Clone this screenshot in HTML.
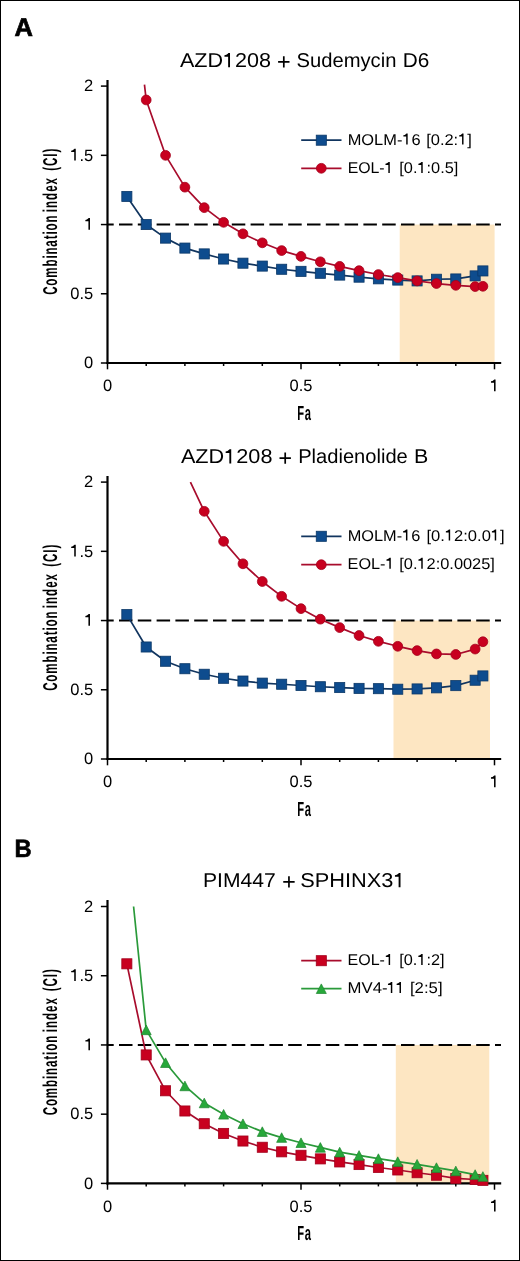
<!DOCTYPE html><html><head><meta charset="utf-8"><style>html,body{margin:0;padding:0;background:#fff;}svg{display:block;will-change:transform;}text{font-family:"Liberation Sans",sans-serif;text-rendering:geometricPrecision;}</style></head><body>
<svg width="520" height="1261" viewBox="0 0 520 1261">
<rect x="0" y="0" width="520" height="1261" fill="#fff"/>
<rect x="0.5" y="0.5" width="519" height="1260" fill="none" stroke="#000" stroke-width="1"/>
<text x="14.6" y="36.3" font-size="25.5" font-weight="bold" fill="#000" stroke="#000" stroke-width="0.7">A</text>
<text x="0" y="0" font-size="25" font-weight="bold" fill="#000" stroke="#000" stroke-width="0.6" transform="translate(14.4 857.2) scale(0.95 1)">B</text>
<rect x="399.7" y="224.55" width="94.9" height="138.45" fill="#fde6c2"/>
<line x1="107.5" y1="224.55" x2="501" y2="224.55" stroke="#000" stroke-width="2" stroke-dasharray="13.5 5.3" stroke-dashoffset="7.3"/>
<line x1="107.5" y1="80" x2="107.5" y2="364.1" stroke="#000" stroke-width="2.2"/>
<line x1="106.4" y1="363" x2="501.2" y2="363" stroke="#000" stroke-width="2.2"/>
<line x1="100.9" y1="363" x2="107.5" y2="363" stroke="#000" stroke-width="1.5"/>
<line x1="100.9" y1="293.77" x2="107.5" y2="293.77" stroke="#000" stroke-width="1.5"/>
<line x1="100.9" y1="224.55" x2="107.5" y2="224.55" stroke="#000" stroke-width="1.5"/>
<line x1="100.9" y1="155.33" x2="107.5" y2="155.33" stroke="#000" stroke-width="1.5"/>
<line x1="100.9" y1="86.1" x2="107.5" y2="86.1" stroke="#000" stroke-width="1.5"/>
<line x1="107.5" y1="363" x2="107.5" y2="369.3" stroke="#000" stroke-width="1.5"/>
<line x1="146.2" y1="363" x2="146.2" y2="366" stroke="#000" stroke-width="1.5"/>
<line x1="184.9" y1="363" x2="184.9" y2="366" stroke="#000" stroke-width="1.5"/>
<line x1="223.6" y1="363" x2="223.6" y2="366" stroke="#000" stroke-width="1.5"/>
<line x1="262.3" y1="363" x2="262.3" y2="366" stroke="#000" stroke-width="1.5"/>
<line x1="301" y1="363" x2="301" y2="369.3" stroke="#000" stroke-width="1.5"/>
<line x1="339.7" y1="363" x2="339.7" y2="366" stroke="#000" stroke-width="1.5"/>
<line x1="378.4" y1="363" x2="378.4" y2="366" stroke="#000" stroke-width="1.5"/>
<line x1="417.1" y1="363" x2="417.1" y2="366" stroke="#000" stroke-width="1.5"/>
<line x1="455.8" y1="363" x2="455.8" y2="366" stroke="#000" stroke-width="1.5"/>
<line x1="494.5" y1="363" x2="494.5" y2="369.3" stroke="#000" stroke-width="1.5"/>
<text x="93.2" y="368.2" font-size="16.5" text-anchor="end" fill="#000">0</text>
<text x="93.2" y="298.97" font-size="16.5" text-anchor="end" fill="#000">0.5</text>
<path d="M89.97,217.99 L89.97,229.75 L88.43,229.75 L88.43,221.19 L85.38,221.19 L85.38,219.9 L86.93,219.49 L88.17,218.56 L88.63,217.99 Z" fill="#000"/>
<path d="M75.77,148.77 L75.77,160.53 L74.23,160.53 L74.23,151.97 L71.18,151.97 L71.18,150.68 L72.73,150.26 L73.97,149.34 L74.43,148.77 Z" fill="#000"/>
<text x="93.2" y="160.53" font-size="16.5" text-anchor="end" fill="#000">.5</text>
<text x="93.2" y="91.3" font-size="16.5" text-anchor="end" fill="#000">2</text>
<text x="107.5" y="391.2" font-size="16.5" text-anchor="middle" fill="#000">0</text>
<text x="301" y="391.2" font-size="16.5" text-anchor="middle" fill="#000">0.5</text>
<path d="M495.57,379.44 L495.57,391.2 L494.03,391.2 L494.03,382.64 L490.98,382.64 L490.98,381.35 L492.53,380.94 L493.77,380.01 L494.23,379.44 Z" fill="#000"/>
<text x="0" y="0" font-size="20.5" font-weight="bold" fill="#000" letter-spacing="1.5" transform="translate(297.2 419.8) scale(0.546 1)">Fa</text>
<text x="0" y="0" font-size="20" font-weight="bold" fill="#000" textLength="136.77" lengthAdjust="spacing" transform="translate(57.1 294.86) rotate(-90) scale(0.58 1)">Combination</text>
<text x="0" y="0" font-size="20" font-weight="bold" fill="#000" textLength="59.07" lengthAdjust="spacing" transform="translate(57.1 212.19) rotate(-90) scale(0.58 1)">index</text>
<text x="0" y="0" font-size="20" font-weight="bold" fill="#000" textLength="38.11" lengthAdjust="spacing" transform="translate(57.1 170.84) rotate(-90) scale(0.58 1)">(CI)</text>
<text x="179.94" y="67.2" font-size="20" fill="#000" textLength="91.13" lengthAdjust="spacingAndGlyphs">AZD<tspan fill="transparent">1</tspan>208</text>
<path d="M278.1,61.9H289.5M283.8,56.2V67.6" stroke="#000" stroke-width="1.7" fill="none"/>
<text x="296.52" y="67.2" font-size="20" fill="#000" textLength="99.92" lengthAdjust="spacingAndGlyphs">Sudemycin</text>
<text x="402.74" y="67.2" font-size="20" fill="#000" textLength="26.56" lengthAdjust="spacingAndGlyphs">D6</text>
<polyline points="126.85,196.44 146.2,224.55 165.55,238.12 184.9,248.09 204.25,253.9 223.6,259.02 242.95,263.18 262.3,266.09 281.65,269.27 301,271.35 320.35,273.28 339.7,275.08 359.05,277.16 378.4,278.82 397.75,280.07 417.1,280.9 436.45,279.24 455.8,278.96 475.15,275.91 482.89,270.93" fill="none" stroke="#11355f" stroke-width="1.7" stroke-linejoin="round"/>
<rect x="121.8" y="191.39" width="10.1" height="10.1" fill="#0e4c8e" stroke="#0b3868" stroke-width="0.8"/>
<rect x="141.15" y="219.5" width="10.1" height="10.1" fill="#0e4c8e" stroke="#0b3868" stroke-width="0.8"/>
<rect x="160.5" y="233.07" width="10.1" height="10.1" fill="#0e4c8e" stroke="#0b3868" stroke-width="0.8"/>
<rect x="179.85" y="243.04" width="10.1" height="10.1" fill="#0e4c8e" stroke="#0b3868" stroke-width="0.8"/>
<rect x="199.2" y="248.85" width="10.1" height="10.1" fill="#0e4c8e" stroke="#0b3868" stroke-width="0.8"/>
<rect x="218.55" y="253.97" width="10.1" height="10.1" fill="#0e4c8e" stroke="#0b3868" stroke-width="0.8"/>
<rect x="237.9" y="258.13" width="10.1" height="10.1" fill="#0e4c8e" stroke="#0b3868" stroke-width="0.8"/>
<rect x="257.25" y="261.04" width="10.1" height="10.1" fill="#0e4c8e" stroke="#0b3868" stroke-width="0.8"/>
<rect x="276.6" y="264.22" width="10.1" height="10.1" fill="#0e4c8e" stroke="#0b3868" stroke-width="0.8"/>
<rect x="295.95" y="266.3" width="10.1" height="10.1" fill="#0e4c8e" stroke="#0b3868" stroke-width="0.8"/>
<rect x="315.3" y="268.23" width="10.1" height="10.1" fill="#0e4c8e" stroke="#0b3868" stroke-width="0.8"/>
<rect x="334.65" y="270.03" width="10.1" height="10.1" fill="#0e4c8e" stroke="#0b3868" stroke-width="0.8"/>
<rect x="354" y="272.11" width="10.1" height="10.1" fill="#0e4c8e" stroke="#0b3868" stroke-width="0.8"/>
<rect x="373.35" y="273.77" width="10.1" height="10.1" fill="#0e4c8e" stroke="#0b3868" stroke-width="0.8"/>
<rect x="392.7" y="275.02" width="10.1" height="10.1" fill="#0e4c8e" stroke="#0b3868" stroke-width="0.8"/>
<rect x="412.05" y="275.85" width="10.1" height="10.1" fill="#0e4c8e" stroke="#0b3868" stroke-width="0.8"/>
<rect x="431.4" y="274.19" width="10.1" height="10.1" fill="#0e4c8e" stroke="#0b3868" stroke-width="0.8"/>
<rect x="450.75" y="273.91" width="10.1" height="10.1" fill="#0e4c8e" stroke="#0b3868" stroke-width="0.8"/>
<rect x="470.1" y="270.86" width="10.1" height="10.1" fill="#0e4c8e" stroke="#0b3868" stroke-width="0.8"/>
<rect x="477.84" y="265.88" width="10.1" height="10.1" fill="#0e4c8e" stroke="#0b3868" stroke-width="0.8"/>
<polyline points="144.46,84.72 146.2,99.95 165.55,155.33 184.9,187.17 204.25,207.66 223.6,222.33 242.95,233.83 262.3,242.83 281.65,250.58 301,256.39 320.35,261.79 339.7,266.36 359.05,270.65 378.4,274.53 397.75,277.58 417.1,280.9 436.45,283.53 455.8,285.33 475.15,286.58 482.89,286.3" fill="none" stroke="#a80c2c" stroke-width="1.7" stroke-linejoin="round"/>
<circle cx="146.2" cy="99.95" r="4.9" fill="#c8001f" stroke="#a3001c" stroke-width="0.8"/>
<circle cx="165.55" cy="155.33" r="4.9" fill="#c8001f" stroke="#a3001c" stroke-width="0.8"/>
<circle cx="184.9" cy="187.17" r="4.9" fill="#c8001f" stroke="#a3001c" stroke-width="0.8"/>
<circle cx="204.25" cy="207.66" r="4.9" fill="#c8001f" stroke="#a3001c" stroke-width="0.8"/>
<circle cx="223.6" cy="222.33" r="4.9" fill="#c8001f" stroke="#a3001c" stroke-width="0.8"/>
<circle cx="242.95" cy="233.83" r="4.9" fill="#c8001f" stroke="#a3001c" stroke-width="0.8"/>
<circle cx="262.3" cy="242.83" r="4.9" fill="#c8001f" stroke="#a3001c" stroke-width="0.8"/>
<circle cx="281.65" cy="250.58" r="4.9" fill="#c8001f" stroke="#a3001c" stroke-width="0.8"/>
<circle cx="301" cy="256.39" r="4.9" fill="#c8001f" stroke="#a3001c" stroke-width="0.8"/>
<circle cx="320.35" cy="261.79" r="4.9" fill="#c8001f" stroke="#a3001c" stroke-width="0.8"/>
<circle cx="339.7" cy="266.36" r="4.9" fill="#c8001f" stroke="#a3001c" stroke-width="0.8"/>
<circle cx="359.05" cy="270.65" r="4.9" fill="#c8001f" stroke="#a3001c" stroke-width="0.8"/>
<circle cx="378.4" cy="274.53" r="4.9" fill="#c8001f" stroke="#a3001c" stroke-width="0.8"/>
<circle cx="397.75" cy="277.58" r="4.9" fill="#c8001f" stroke="#a3001c" stroke-width="0.8"/>
<circle cx="417.1" cy="280.9" r="4.9" fill="#c8001f" stroke="#a3001c" stroke-width="0.8"/>
<circle cx="436.45" cy="283.53" r="4.9" fill="#c8001f" stroke="#a3001c" stroke-width="0.8"/>
<circle cx="455.8" cy="285.33" r="4.9" fill="#c8001f" stroke="#a3001c" stroke-width="0.8"/>
<circle cx="475.15" cy="286.58" r="4.9" fill="#c8001f" stroke="#a3001c" stroke-width="0.8"/>
<circle cx="482.89" cy="286.3" r="4.9" fill="#c8001f" stroke="#a3001c" stroke-width="0.8"/>
<line x1="301.2" y1="140.2" x2="341.5" y2="140.2" stroke="#11355f" stroke-width="1.7"/>
<rect x="316.25" y="135.15" width="10.1" height="10.1" fill="#0e4c8e" stroke="#0b3868" stroke-width="0.8"/>
<text x="347.65" y="144.6" font-size="15.5" fill="#000" textLength="72.99" lengthAdjust="spacingAndGlyphs">MOLM-<tspan fill="transparent">1</tspan>6</text>
<text x="426.16" y="144.6" font-size="15.5" fill="#000" textLength="45.79" lengthAdjust="spacingAndGlyphs">[0.2:<tspan fill="transparent">1</tspan>]</text>
<line x1="301.2" y1="168.3" x2="341.5" y2="168.3" stroke="#a80c2c" stroke-width="1.7"/>
<circle cx="321.3" cy="168.3" r="4.9" fill="#c8001f" stroke="#a3001c" stroke-width="0.8"/>
<text x="347.66" y="173" font-size="15.5" fill="#000" textLength="45.81" lengthAdjust="spacingAndGlyphs">EOL-<tspan fill="transparent">1</tspan></text>
<text x="399.28" y="173" font-size="15.5" fill="#000" textLength="59.03" lengthAdjust="spacingAndGlyphs">[0.<tspan fill="transparent">1</tspan>:0.5]</text>
<rect x="393.5" y="620.55" width="96.5" height="138.45" fill="#fde6c2"/>
<line x1="107.5" y1="620.55" x2="501" y2="620.55" stroke="#000" stroke-width="2" stroke-dasharray="13.5 5.3" stroke-dashoffset="7.3"/>
<line x1="107.5" y1="476" x2="107.5" y2="760.1" stroke="#000" stroke-width="2.2"/>
<line x1="106.4" y1="759" x2="501.2" y2="759" stroke="#000" stroke-width="2.2"/>
<line x1="100.9" y1="759" x2="107.5" y2="759" stroke="#000" stroke-width="1.5"/>
<line x1="100.9" y1="689.77" x2="107.5" y2="689.77" stroke="#000" stroke-width="1.5"/>
<line x1="100.9" y1="620.55" x2="107.5" y2="620.55" stroke="#000" stroke-width="1.5"/>
<line x1="100.9" y1="551.33" x2="107.5" y2="551.33" stroke="#000" stroke-width="1.5"/>
<line x1="100.9" y1="482.1" x2="107.5" y2="482.1" stroke="#000" stroke-width="1.5"/>
<line x1="107.5" y1="759" x2="107.5" y2="765.3" stroke="#000" stroke-width="1.5"/>
<line x1="146.2" y1="759" x2="146.2" y2="762" stroke="#000" stroke-width="1.5"/>
<line x1="184.9" y1="759" x2="184.9" y2="762" stroke="#000" stroke-width="1.5"/>
<line x1="223.6" y1="759" x2="223.6" y2="762" stroke="#000" stroke-width="1.5"/>
<line x1="262.3" y1="759" x2="262.3" y2="762" stroke="#000" stroke-width="1.5"/>
<line x1="301" y1="759" x2="301" y2="765.3" stroke="#000" stroke-width="1.5"/>
<line x1="339.7" y1="759" x2="339.7" y2="762" stroke="#000" stroke-width="1.5"/>
<line x1="378.4" y1="759" x2="378.4" y2="762" stroke="#000" stroke-width="1.5"/>
<line x1="417.1" y1="759" x2="417.1" y2="762" stroke="#000" stroke-width="1.5"/>
<line x1="455.8" y1="759" x2="455.8" y2="762" stroke="#000" stroke-width="1.5"/>
<line x1="494.5" y1="759" x2="494.5" y2="765.3" stroke="#000" stroke-width="1.5"/>
<text x="93.2" y="764.2" font-size="16.5" text-anchor="end" fill="#000">0</text>
<text x="93.2" y="694.98" font-size="16.5" text-anchor="end" fill="#000">0.5</text>
<path d="M89.97,613.99 L89.97,625.75 L88.43,625.75 L88.43,617.19 L85.38,617.19 L85.38,615.9 L86.93,615.49 L88.17,614.56 L88.63,613.99 Z" fill="#000"/>
<path d="M75.77,544.77 L75.77,556.53 L74.23,556.53 L74.23,547.97 L71.18,547.97 L71.18,546.68 L72.73,546.26 L73.97,545.34 L74.43,544.77 Z" fill="#000"/>
<text x="93.2" y="556.53" font-size="16.5" text-anchor="end" fill="#000">.5</text>
<text x="93.2" y="487.3" font-size="16.5" text-anchor="end" fill="#000">2</text>
<text x="107.5" y="787.2" font-size="16.5" text-anchor="middle" fill="#000">0</text>
<text x="301" y="787.2" font-size="16.5" text-anchor="middle" fill="#000">0.5</text>
<path d="M495.57,775.44 L495.57,787.2 L494.03,787.2 L494.03,778.64 L490.98,778.64 L490.98,777.35 L492.53,776.94 L493.77,776.01 L494.23,775.44 Z" fill="#000"/>
<text x="0" y="0" font-size="20.5" font-weight="bold" fill="#000" letter-spacing="1.5" transform="translate(297.2 816) scale(0.546 1)">Fa</text>
<text x="0" y="0" font-size="20" font-weight="bold" fill="#000" textLength="136.77" lengthAdjust="spacing" transform="translate(57.1 690.86) rotate(-90) scale(0.58 1)">Combination</text>
<text x="0" y="0" font-size="20" font-weight="bold" fill="#000" textLength="59.07" lengthAdjust="spacing" transform="translate(57.1 608.19) rotate(-90) scale(0.58 1)">index</text>
<text x="0" y="0" font-size="20" font-weight="bold" fill="#000" textLength="38.11" lengthAdjust="spacing" transform="translate(57.1 566.84) rotate(-90) scale(0.58 1)">(CI)</text>
<text x="180.93" y="463.4" font-size="20" fill="#000" textLength="91.53" lengthAdjust="spacingAndGlyphs">AZD<tspan fill="transparent">1</tspan>208</text>
<path d="M279.5,458.1H290.9M285.2,452.4V463.8" stroke="#000" stroke-width="1.7" fill="none"/>
<text x="298.19" y="463.4" font-size="20" fill="#000" textLength="109.6" lengthAdjust="spacingAndGlyphs">Pladienolide</text>
<text x="413.97" y="463.4" font-size="20" fill="#000" textLength="14.28" lengthAdjust="spacingAndGlyphs">B</text>
<polyline points="126.85,614.6 146.2,646.99 165.55,661.25 184.9,668.73 204.25,674.27 223.6,678.28 242.95,681.05 262.3,683.13 281.65,684.24 301,685.48 320.35,686.73 339.7,687.56 359.05,688.39 378.4,688.67 397.75,689.22 417.1,688.94 436.45,687.84 455.8,685.62 475.15,680.22 482.89,675.93" fill="none" stroke="#11355f" stroke-width="1.7" stroke-linejoin="round"/>
<rect x="121.8" y="609.55" width="10.1" height="10.1" fill="#0e4c8e" stroke="#0b3868" stroke-width="0.8"/>
<rect x="141.15" y="641.94" width="10.1" height="10.1" fill="#0e4c8e" stroke="#0b3868" stroke-width="0.8"/>
<rect x="160.5" y="656.2" width="10.1" height="10.1" fill="#0e4c8e" stroke="#0b3868" stroke-width="0.8"/>
<rect x="179.85" y="663.68" width="10.1" height="10.1" fill="#0e4c8e" stroke="#0b3868" stroke-width="0.8"/>
<rect x="199.2" y="669.22" width="10.1" height="10.1" fill="#0e4c8e" stroke="#0b3868" stroke-width="0.8"/>
<rect x="218.55" y="673.23" width="10.1" height="10.1" fill="#0e4c8e" stroke="#0b3868" stroke-width="0.8"/>
<rect x="237.9" y="676" width="10.1" height="10.1" fill="#0e4c8e" stroke="#0b3868" stroke-width="0.8"/>
<rect x="257.25" y="678.08" width="10.1" height="10.1" fill="#0e4c8e" stroke="#0b3868" stroke-width="0.8"/>
<rect x="276.6" y="679.19" width="10.1" height="10.1" fill="#0e4c8e" stroke="#0b3868" stroke-width="0.8"/>
<rect x="295.95" y="680.43" width="10.1" height="10.1" fill="#0e4c8e" stroke="#0b3868" stroke-width="0.8"/>
<rect x="315.3" y="681.68" width="10.1" height="10.1" fill="#0e4c8e" stroke="#0b3868" stroke-width="0.8"/>
<rect x="334.65" y="682.51" width="10.1" height="10.1" fill="#0e4c8e" stroke="#0b3868" stroke-width="0.8"/>
<rect x="354" y="683.34" width="10.1" height="10.1" fill="#0e4c8e" stroke="#0b3868" stroke-width="0.8"/>
<rect x="373.35" y="683.62" width="10.1" height="10.1" fill="#0e4c8e" stroke="#0b3868" stroke-width="0.8"/>
<rect x="392.7" y="684.17" width="10.1" height="10.1" fill="#0e4c8e" stroke="#0b3868" stroke-width="0.8"/>
<rect x="412.05" y="683.89" width="10.1" height="10.1" fill="#0e4c8e" stroke="#0b3868" stroke-width="0.8"/>
<rect x="431.4" y="682.79" width="10.1" height="10.1" fill="#0e4c8e" stroke="#0b3868" stroke-width="0.8"/>
<rect x="450.75" y="680.57" width="10.1" height="10.1" fill="#0e4c8e" stroke="#0b3868" stroke-width="0.8"/>
<rect x="470.1" y="675.17" width="10.1" height="10.1" fill="#0e4c8e" stroke="#0b3868" stroke-width="0.8"/>
<rect x="477.84" y="670.88" width="10.1" height="10.1" fill="#0e4c8e" stroke="#0b3868" stroke-width="0.8"/>
<polyline points="190.43,482.1 204.25,511.31 223.6,541.36 242.95,563.79 262.3,581.51 281.65,596.32 301,608.64 320.35,619.17 339.7,627.61 359.05,635.5 378.4,641.32 397.75,646.3 417.1,650.59 436.45,653.92 455.8,654.47 475.15,649.07 482.89,641.73" fill="none" stroke="#a80c2c" stroke-width="1.7" stroke-linejoin="round"/>
<circle cx="204.25" cy="511.31" r="4.9" fill="#c8001f" stroke="#a3001c" stroke-width="0.8"/>
<circle cx="223.6" cy="541.36" r="4.9" fill="#c8001f" stroke="#a3001c" stroke-width="0.8"/>
<circle cx="242.95" cy="563.79" r="4.9" fill="#c8001f" stroke="#a3001c" stroke-width="0.8"/>
<circle cx="262.3" cy="581.51" r="4.9" fill="#c8001f" stroke="#a3001c" stroke-width="0.8"/>
<circle cx="281.65" cy="596.32" r="4.9" fill="#c8001f" stroke="#a3001c" stroke-width="0.8"/>
<circle cx="301" cy="608.64" r="4.9" fill="#c8001f" stroke="#a3001c" stroke-width="0.8"/>
<circle cx="320.35" cy="619.17" r="4.9" fill="#c8001f" stroke="#a3001c" stroke-width="0.8"/>
<circle cx="339.7" cy="627.61" r="4.9" fill="#c8001f" stroke="#a3001c" stroke-width="0.8"/>
<circle cx="359.05" cy="635.5" r="4.9" fill="#c8001f" stroke="#a3001c" stroke-width="0.8"/>
<circle cx="378.4" cy="641.32" r="4.9" fill="#c8001f" stroke="#a3001c" stroke-width="0.8"/>
<circle cx="397.75" cy="646.3" r="4.9" fill="#c8001f" stroke="#a3001c" stroke-width="0.8"/>
<circle cx="417.1" cy="650.59" r="4.9" fill="#c8001f" stroke="#a3001c" stroke-width="0.8"/>
<circle cx="436.45" cy="653.92" r="4.9" fill="#c8001f" stroke="#a3001c" stroke-width="0.8"/>
<circle cx="455.8" cy="654.47" r="4.9" fill="#c8001f" stroke="#a3001c" stroke-width="0.8"/>
<circle cx="475.15" cy="649.07" r="4.9" fill="#c8001f" stroke="#a3001c" stroke-width="0.8"/>
<circle cx="482.89" cy="641.73" r="4.9" fill="#c8001f" stroke="#a3001c" stroke-width="0.8"/>
<line x1="301.2" y1="536.3" x2="341.5" y2="536.3" stroke="#11355f" stroke-width="1.7"/>
<rect x="316.25" y="531.25" width="10.1" height="10.1" fill="#0e4c8e" stroke="#0b3868" stroke-width="0.8"/>
<text x="347.67" y="540.5" font-size="15.5" fill="#000" textLength="72.65" lengthAdjust="spacingAndGlyphs">MOLM-<tspan fill="transparent">1</tspan>6</text>
<text x="426.42" y="540.5" font-size="15.5" fill="#000" textLength="78.26" lengthAdjust="spacingAndGlyphs">[0.<tspan fill="transparent">1</tspan>2:0.0<tspan fill="transparent">1</tspan>]</text>
<line x1="301.2" y1="564.7" x2="341.5" y2="564.7" stroke="#a80c2c" stroke-width="1.7"/>
<circle cx="321.3" cy="564.7" r="4.9" fill="#c8001f" stroke="#a3001c" stroke-width="0.8"/>
<text x="347.62" y="568.7" font-size="15.5" fill="#000" textLength="46.96" lengthAdjust="spacingAndGlyphs">EOL-<tspan fill="transparent">1</tspan></text>
<text x="399.22" y="568.7" font-size="15.5" fill="#000" textLength="95.7" lengthAdjust="spacingAndGlyphs">[0.<tspan fill="transparent">1</tspan>2:0.0025]</text>
<rect x="395.8" y="1044.95" width="93.5" height="138.45" fill="#fde6c2"/>
<line x1="107.5" y1="1044.95" x2="501" y2="1044.95" stroke="#000" stroke-width="2" stroke-dasharray="13.5 5.3" stroke-dashoffset="7.3"/>
<line x1="107.5" y1="900" x2="107.5" y2="1184.5" stroke="#000" stroke-width="2.2"/>
<line x1="106.4" y1="1183.4" x2="501.2" y2="1183.4" stroke="#000" stroke-width="2.2"/>
<line x1="100.9" y1="1183.4" x2="107.5" y2="1183.4" stroke="#000" stroke-width="1.5"/>
<line x1="100.9" y1="1114.18" x2="107.5" y2="1114.18" stroke="#000" stroke-width="1.5"/>
<line x1="100.9" y1="1044.95" x2="107.5" y2="1044.95" stroke="#000" stroke-width="1.5"/>
<line x1="100.9" y1="975.73" x2="107.5" y2="975.73" stroke="#000" stroke-width="1.5"/>
<line x1="100.9" y1="906.5" x2="107.5" y2="906.5" stroke="#000" stroke-width="1.5"/>
<line x1="107.5" y1="1183.4" x2="107.5" y2="1189.7" stroke="#000" stroke-width="1.5"/>
<line x1="146.2" y1="1183.4" x2="146.2" y2="1186.4" stroke="#000" stroke-width="1.5"/>
<line x1="184.9" y1="1183.4" x2="184.9" y2="1186.4" stroke="#000" stroke-width="1.5"/>
<line x1="223.6" y1="1183.4" x2="223.6" y2="1186.4" stroke="#000" stroke-width="1.5"/>
<line x1="262.3" y1="1183.4" x2="262.3" y2="1186.4" stroke="#000" stroke-width="1.5"/>
<line x1="301" y1="1183.4" x2="301" y2="1189.7" stroke="#000" stroke-width="1.5"/>
<line x1="339.7" y1="1183.4" x2="339.7" y2="1186.4" stroke="#000" stroke-width="1.5"/>
<line x1="378.4" y1="1183.4" x2="378.4" y2="1186.4" stroke="#000" stroke-width="1.5"/>
<line x1="417.1" y1="1183.4" x2="417.1" y2="1186.4" stroke="#000" stroke-width="1.5"/>
<line x1="455.8" y1="1183.4" x2="455.8" y2="1186.4" stroke="#000" stroke-width="1.5"/>
<line x1="494.5" y1="1183.4" x2="494.5" y2="1189.7" stroke="#000" stroke-width="1.5"/>
<text x="93.2" y="1188.6" font-size="16.5" text-anchor="end" fill="#000">0</text>
<text x="93.2" y="1119.38" font-size="16.5" text-anchor="end" fill="#000">0.5</text>
<path d="M89.97,1038.39 L89.97,1050.15 L88.43,1050.15 L88.43,1041.59 L85.38,1041.59 L85.38,1040.3 L86.93,1039.89 L88.17,1038.96 L88.63,1038.39 Z" fill="#000"/>
<path d="M75.77,969.17 L75.77,980.93 L74.23,980.93 L74.23,972.37 L71.18,972.37 L71.18,971.08 L72.73,970.66 L73.97,969.74 L74.43,969.17 Z" fill="#000"/>
<text x="93.2" y="980.93" font-size="16.5" text-anchor="end" fill="#000">.5</text>
<text x="93.2" y="911.7" font-size="16.5" text-anchor="end" fill="#000">2</text>
<text x="107.5" y="1211.6" font-size="16.5" text-anchor="middle" fill="#000">0</text>
<text x="301" y="1211.6" font-size="16.5" text-anchor="middle" fill="#000">0.5</text>
<path d="M495.57,1199.84 L495.57,1211.6 L494.03,1211.6 L494.03,1203.04 L490.98,1203.04 L490.98,1201.75 L492.53,1201.34 L493.77,1200.41 L494.23,1199.84 Z" fill="#000"/>
<text x="0" y="0" font-size="20.5" font-weight="bold" fill="#000" letter-spacing="1.5" transform="translate(297.2 1240.3) scale(0.546 1)">Fa</text>
<text x="0" y="0" font-size="20" font-weight="bold" fill="#000" textLength="137.25" lengthAdjust="spacing" transform="translate(57.1 1115.36) rotate(-90) scale(0.58 1)">Combination</text>
<text x="0" y="0" font-size="20" font-weight="bold" fill="#000" textLength="58.89" lengthAdjust="spacing" transform="translate(57.1 1032.25) rotate(-90) scale(0.58 1)">index</text>
<text x="0" y="0" font-size="20" font-weight="bold" fill="#000" textLength="38.36" lengthAdjust="spacing" transform="translate(57.1 991.35) rotate(-90) scale(0.58 1)">(CI)</text>
<text x="202.98" y="887.2" font-size="20" fill="#000" textLength="72.78" lengthAdjust="spacingAndGlyphs">PIM447</text>
<path d="M283.25,881.9H294.65M288.95,876.2V887.6" stroke="#000" stroke-width="1.7" fill="none"/>
<text x="300.29" y="887.2" font-size="20" fill="#000" textLength="105.33" lengthAdjust="spacingAndGlyphs">SPHINX3<tspan fill="transparent">1</tspan></text>
<polyline points="126.85,963.82 146.2,1054.92 165.55,1090.78 184.9,1110.99 204.25,1123.73 223.6,1133.42 242.95,1141.03 262.3,1147.26 281.65,1151.83 301,1155.29 320.35,1158.89 339.7,1161.94 359.05,1164.57 378.4,1167.48 397.75,1169.97 417.1,1172.74 436.45,1175.23 455.8,1178.42 475.15,1179.52 482.89,1180.35" fill="none" stroke="#a80c2c" stroke-width="1.7" stroke-linejoin="round"/>
<rect x="121.8" y="958.77" width="10.1" height="10.1" fill="#c8001f" stroke="#a3001c" stroke-width="0.8"/>
<rect x="141.15" y="1049.87" width="10.1" height="10.1" fill="#c8001f" stroke="#a3001c" stroke-width="0.8"/>
<rect x="160.5" y="1085.73" width="10.1" height="10.1" fill="#c8001f" stroke="#a3001c" stroke-width="0.8"/>
<rect x="179.85" y="1105.94" width="10.1" height="10.1" fill="#c8001f" stroke="#a3001c" stroke-width="0.8"/>
<rect x="199.2" y="1118.68" width="10.1" height="10.1" fill="#c8001f" stroke="#a3001c" stroke-width="0.8"/>
<rect x="218.55" y="1128.37" width="10.1" height="10.1" fill="#c8001f" stroke="#a3001c" stroke-width="0.8"/>
<rect x="237.9" y="1135.98" width="10.1" height="10.1" fill="#c8001f" stroke="#a3001c" stroke-width="0.8"/>
<rect x="257.25" y="1142.21" width="10.1" height="10.1" fill="#c8001f" stroke="#a3001c" stroke-width="0.8"/>
<rect x="276.6" y="1146.78" width="10.1" height="10.1" fill="#c8001f" stroke="#a3001c" stroke-width="0.8"/>
<rect x="295.95" y="1150.24" width="10.1" height="10.1" fill="#c8001f" stroke="#a3001c" stroke-width="0.8"/>
<rect x="315.3" y="1153.84" width="10.1" height="10.1" fill="#c8001f" stroke="#a3001c" stroke-width="0.8"/>
<rect x="334.65" y="1156.89" width="10.1" height="10.1" fill="#c8001f" stroke="#a3001c" stroke-width="0.8"/>
<rect x="354" y="1159.52" width="10.1" height="10.1" fill="#c8001f" stroke="#a3001c" stroke-width="0.8"/>
<rect x="373.35" y="1162.43" width="10.1" height="10.1" fill="#c8001f" stroke="#a3001c" stroke-width="0.8"/>
<rect x="392.7" y="1164.92" width="10.1" height="10.1" fill="#c8001f" stroke="#a3001c" stroke-width="0.8"/>
<rect x="412.05" y="1167.69" width="10.1" height="10.1" fill="#c8001f" stroke="#a3001c" stroke-width="0.8"/>
<rect x="431.4" y="1170.18" width="10.1" height="10.1" fill="#c8001f" stroke="#a3001c" stroke-width="0.8"/>
<rect x="450.75" y="1173.37" width="10.1" height="10.1" fill="#c8001f" stroke="#a3001c" stroke-width="0.8"/>
<rect x="470.1" y="1174.47" width="10.1" height="10.1" fill="#c8001f" stroke="#a3001c" stroke-width="0.8"/>
<rect x="477.84" y="1175.3" width="10.1" height="10.1" fill="#c8001f" stroke="#a3001c" stroke-width="0.8"/>
<polyline points="133.58,906.5 146.2,1029.86 165.55,1062.67 184.9,1085.93 204.25,1102.96 223.6,1114.31 242.95,1123.73 262.3,1131.62 281.65,1137.57 301,1142.7 320.35,1147.4 339.7,1152.11 359.05,1155.43 378.4,1158.62 397.75,1161.66 417.1,1164.29 436.45,1167.62 455.8,1170.94 475.15,1174.54 482.89,1176.48" fill="none" stroke="#2a9a3a" stroke-width="1.7" stroke-linejoin="round"/>
<path d="M146.2,1025.06 L151.2,1034.66 L141.2,1034.66 Z" fill="#27a83a" stroke="#1f8530" stroke-width="0.7"/>
<path d="M165.55,1057.87 L170.55,1067.47 L160.55,1067.47 Z" fill="#27a83a" stroke="#1f8530" stroke-width="0.7"/>
<path d="M184.9,1081.13 L189.9,1090.73 L179.9,1090.73 Z" fill="#27a83a" stroke="#1f8530" stroke-width="0.7"/>
<path d="M204.25,1098.16 L209.25,1107.76 L199.25,1107.76 Z" fill="#27a83a" stroke="#1f8530" stroke-width="0.7"/>
<path d="M223.6,1109.51 L228.6,1119.11 L218.6,1119.11 Z" fill="#27a83a" stroke="#1f8530" stroke-width="0.7"/>
<path d="M242.95,1118.93 L247.95,1128.53 L237.95,1128.53 Z" fill="#27a83a" stroke="#1f8530" stroke-width="0.7"/>
<path d="M262.3,1126.82 L267.3,1136.42 L257.3,1136.42 Z" fill="#27a83a" stroke="#1f8530" stroke-width="0.7"/>
<path d="M281.65,1132.77 L286.65,1142.37 L276.65,1142.37 Z" fill="#27a83a" stroke="#1f8530" stroke-width="0.7"/>
<path d="M301,1137.9 L306,1147.5 L296,1147.5 Z" fill="#27a83a" stroke="#1f8530" stroke-width="0.7"/>
<path d="M320.35,1142.6 L325.35,1152.2 L315.35,1152.2 Z" fill="#27a83a" stroke="#1f8530" stroke-width="0.7"/>
<path d="M339.7,1147.31 L344.7,1156.91 L334.7,1156.91 Z" fill="#27a83a" stroke="#1f8530" stroke-width="0.7"/>
<path d="M359.05,1150.63 L364.05,1160.23 L354.05,1160.23 Z" fill="#27a83a" stroke="#1f8530" stroke-width="0.7"/>
<path d="M378.4,1153.82 L383.4,1163.42 L373.4,1163.42 Z" fill="#27a83a" stroke="#1f8530" stroke-width="0.7"/>
<path d="M397.75,1156.86 L402.75,1166.46 L392.75,1166.46 Z" fill="#27a83a" stroke="#1f8530" stroke-width="0.7"/>
<path d="M417.1,1159.49 L422.1,1169.09 L412.1,1169.09 Z" fill="#27a83a" stroke="#1f8530" stroke-width="0.7"/>
<path d="M436.45,1162.82 L441.45,1172.42 L431.45,1172.42 Z" fill="#27a83a" stroke="#1f8530" stroke-width="0.7"/>
<path d="M455.8,1166.14 L460.8,1175.74 L450.8,1175.74 Z" fill="#27a83a" stroke="#1f8530" stroke-width="0.7"/>
<path d="M475.15,1169.74 L480.15,1179.34 L470.15,1179.34 Z" fill="#27a83a" stroke="#1f8530" stroke-width="0.7"/>
<path d="M482.89,1171.68 L487.89,1181.28 L477.89,1181.28 Z" fill="#27a83a" stroke="#1f8530" stroke-width="0.7"/>
<line x1="301.2" y1="960.7" x2="341.5" y2="960.7" stroke="#a80c2c" stroke-width="1.7"/>
<rect x="316.25" y="955.65" width="10.1" height="10.1" fill="#c8001f" stroke="#a3001c" stroke-width="0.8"/>
<text x="347.59" y="965" font-size="15.5" fill="#000" textLength="46.26" lengthAdjust="spacingAndGlyphs">EOL-<tspan fill="transparent">1</tspan></text>
<text x="399.28" y="965" font-size="15.5" fill="#000" textLength="45.3" lengthAdjust="spacingAndGlyphs">[0.<tspan fill="transparent">1</tspan>:2]</text>
<line x1="301.2" y1="988.7" x2="341.5" y2="988.7" stroke="#2a9a3a" stroke-width="1.7"/>
<path d="M321.3,983.9 L326.3,993.5 L316.3,993.5 Z" fill="#27a83a" stroke="#1f8530" stroke-width="0.7"/>
<text x="347.56" y="993" font-size="15.5" fill="#000" textLength="57.34" lengthAdjust="spacingAndGlyphs">MV4-<tspan fill="transparent">1</tspan><tspan fill="transparent">1</tspan></text>
<text x="409.98" y="993" font-size="15.5" fill="#000" textLength="32.6" lengthAdjust="spacingAndGlyphs">[2:5]</text>
<path d="M230.01,52.95 L230.01,67.2 L228.14,67.2 L228.14,56.83 L224.45,56.83 L224.45,55.26 L226.33,54.76 L227.83,53.64 L228.39,52.95 Z" fill="#000"/>
<path d="M407.67,133.56 L407.67,144.6 L406.21,144.6 L406.21,136.56 L403.35,136.56 L403.35,135.35 L404.81,134.96 L405.97,134.09 L406.41,133.56 Z" fill="#000"/>
<path d="M463.52,133.56 L463.52,144.6 L462.06,144.6 L462.06,136.56 L459.2,136.56 L459.2,135.35 L460.66,134.96 L461.82,134.09 L462.26,133.56 Z" fill="#000"/>
<path d="M389.79,161.96 L389.79,173 L388.33,173 L388.33,164.96 L385.48,164.96 L385.48,163.75 L386.93,163.36 L388.09,162.49 L388.53,161.96 Z" fill="#000"/>
<path d="M422.71,161.96 L422.71,173 L421.25,173 L421.25,164.96 L418.4,164.96 L418.4,163.75 L419.85,163.36 L421.01,162.49 L421.45,161.96 Z" fill="#000"/>
<path d="M231.22,449.15 L231.22,463.4 L229.35,463.4 L229.35,453.02 L225.66,453.02 L225.66,451.46 L227.53,450.96 L229.03,449.84 L229.6,449.15 Z" fill="#000"/>
<path d="M407.41,529.46 L407.41,540.5 L405.96,540.5 L405.96,532.46 L403.1,532.46 L403.1,531.25 L404.55,530.86 L405.71,529.99 L406.15,529.46 Z" fill="#000"/>
<path d="M450.16,529.46 L450.16,540.5 L448.7,540.5 L448.7,532.46 L445.85,532.46 L445.85,531.25 L447.3,530.86 L448.46,529.99 L448.9,529.46 Z" fill="#000"/>
<path d="M496.2,529.46 L496.2,540.5 L494.74,540.5 L494.74,532.46 L491.88,532.46 L491.88,531.25 L493.34,530.86 L494.5,529.99 L494.94,529.46 Z" fill="#000"/>
<path d="M390.79,557.66 L390.79,568.7 L389.33,568.7 L389.33,560.66 L386.48,560.66 L386.48,559.45 L387.93,559.06 L389.09,558.19 L389.53,557.66 Z" fill="#000"/>
<path d="M422.73,557.66 L422.73,568.7 L421.27,568.7 L421.27,560.66 L418.42,560.66 L418.42,559.45 L419.87,559.06 L421.03,558.19 L421.47,557.66 Z" fill="#000"/>
<path d="M400.5,872.95 L400.5,887.2 L398.62,887.2 L398.62,876.83 L394.94,876.83 L394.94,875.26 L396.81,874.76 L398.31,873.64 L398.87,872.95 Z" fill="#000"/>
<path d="M390.12,953.96 L390.12,965 L388.67,965 L388.67,956.96 L385.81,956.96 L385.81,955.75 L387.27,955.36 L388.43,954.49 L388.87,953.96 Z" fill="#000"/>
<path d="M422.66,953.96 L422.66,965 L421.2,965 L421.2,956.96 L418.35,956.96 L418.35,955.75 L419.8,955.36 L420.96,954.49 L421.4,953.96 Z" fill="#000"/>
<path d="M392.29,981.96 L392.29,993 L390.83,993 L390.83,984.96 L387.98,984.96 L387.98,983.75 L389.43,983.36 L390.59,982.49 L391.03,981.96 Z" fill="#000"/>
<path d="M400.97,981.96 L400.97,993 L399.52,993 L399.52,984.96 L396.66,984.96 L396.66,983.75 L398.12,983.36 L399.28,982.49 L399.72,981.96 Z" fill="#000"/>
</svg></body></html>
